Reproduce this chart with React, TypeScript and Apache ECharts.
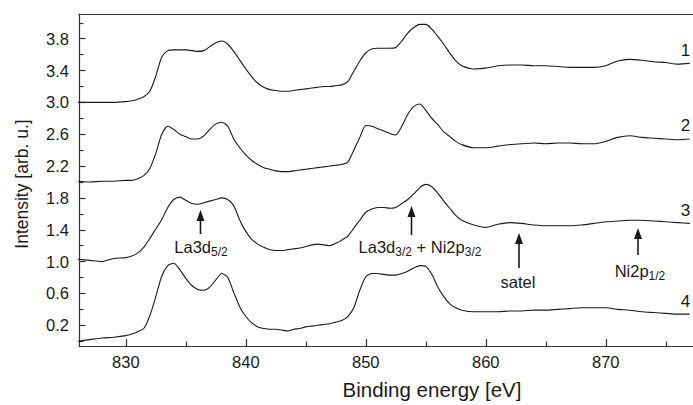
import { useEffect, useRef } from 'react';
import * as echarts from 'echarts';

// Binding energy grid [eV]
const ENERGY = [
  826, 827, 828, 829,
  830, 830.5, 831, 831.5, 832, 832.5, 833, 833.5, 834, 834.5,
  835, 835.5, 836, 836.5, 837, 837.5, 838, 838.5, 839, 839.5,
  840, 840.5, 841, 841.5, 842, 842.5, 843, 843.5, 844, 844.5,
  845, 845.5, 846, 846.5, 847, 847.5, 848, 848.5, 849, 849.5,
  850, 850.5, 851, 851.5, 852, 852.5, 853, 853.5, 854, 854.5,
  855, 855.5, 856, 856.5, 857, 857.5, 858,
  859, 860, 861, 862, 863, 864, 865, 866, 867, 868, 869, 870, 871, 872, 873, 874, 875, 876, 877,
];

const SPECTRUM_1 = [
  3.0, 3.0, 3.0, 3.0,
  3.01, 3.02, 3.04, 3.07, 3.14, 3.33, 3.57, 3.65, 3.66, 3.66,
  3.66, 3.65, 3.64, 3.65, 3.7, 3.75, 3.77, 3.73, 3.64, 3.53,
  3.42, 3.32, 3.24, 3.19, 3.16, 3.15, 3.14, 3.14, 3.15, 3.16,
  3.17, 3.18, 3.19, 3.2, 3.2, 3.21, 3.22, 3.26, 3.39, 3.52,
  3.62, 3.67, 3.68, 3.68, 3.68, 3.69, 3.77, 3.87, 3.94, 3.98,
  3.98, 3.92, 3.83, 3.73, 3.62, 3.52, 3.46,
  3.42, 3.43, 3.46, 3.47, 3.47, 3.46, 3.46, 3.45, 3.44, 3.44, 3.44, 3.46, 3.52, 3.54, 3.53, 3.51, 3.5, 3.48, 3.49,
];

const SPECTRUM_2 = [
  2.01, 2.0, 2.01, 2.01,
  2.02, 2.02, 2.04, 2.08, 2.17, 2.36, 2.6, 2.7, 2.66, 2.6,
  2.57, 2.54, 2.54, 2.58, 2.66, 2.73, 2.75, 2.7, 2.54, 2.43,
  2.34, 2.27, 2.22, 2.18, 2.16, 2.14, 2.13, 2.13, 2.14, 2.15,
  2.16, 2.17, 2.18, 2.19, 2.2, 2.21, 2.22, 2.25, 2.4, 2.56,
  2.71, 2.7, 2.67, 2.64, 2.61, 2.59, 2.7, 2.85, 2.95, 2.98,
  2.9, 2.8, 2.72, 2.63, 2.57, 2.51, 2.47,
  2.43, 2.43, 2.45, 2.47, 2.48, 2.49, 2.48, 2.49, 2.49, 2.48, 2.48, 2.51, 2.56, 2.58, 2.56, 2.55, 2.54, 2.53, 2.54,
];

const SPECTRUM_3 = [
  1.03, 1.015, 1.0, 1.04,
  1.05, 1.07, 1.11, 1.18, 1.29, 1.41, 1.53, 1.68, 1.78, 1.81,
  1.77, 1.73, 1.72, 1.74, 1.76, 1.78, 1.8, 1.78, 1.7, 1.52,
  1.38, 1.28, 1.22, 1.18, 1.15, 1.14, 1.14, 1.15, 1.16, 1.17,
  1.19, 1.21, 1.22, 1.21, 1.2, 1.23, 1.27, 1.32, 1.42, 1.52,
  1.62, 1.66, 1.68, 1.68, 1.67, 1.68, 1.73, 1.78, 1.85, 1.93,
  1.97, 1.94, 1.86, 1.76, 1.67, 1.58, 1.52,
  1.46, 1.43, 1.47, 1.49, 1.48, 1.46, 1.45, 1.45, 1.45, 1.46, 1.48, 1.5, 1.51, 1.52, 1.52, 1.51, 1.5, 1.49, 1.48,
];

const SPECTRUM_4 = [
  0.0, 0.02, 0.04, 0.05,
  0.07, 0.09, 0.12, 0.16, 0.32, 0.56, 0.82, 0.95, 0.98, 0.9,
  0.79, 0.7, 0.65, 0.64, 0.68, 0.77, 0.85, 0.8, 0.61, 0.43,
  0.31, 0.23, 0.18, 0.16, 0.15, 0.15, 0.14, 0.13, 0.15, 0.16,
  0.18, 0.19, 0.2, 0.21, 0.22, 0.24, 0.26, 0.31, 0.42, 0.64,
  0.81, 0.85, 0.85, 0.84, 0.83, 0.83, 0.85, 0.88, 0.92, 0.95,
  0.94, 0.84, 0.68, 0.56, 0.47, 0.42, 0.39,
  0.37, 0.37, 0.37, 0.38, 0.38, 0.39, 0.39, 0.4, 0.41, 0.42, 0.42, 0.42, 0.4, 0.39, 0.37, 0.36, 0.35, 0.34, 0.34,
];

const SPECTRA = [SPECTRUM_1, SPECTRUM_2, SPECTRUM_3, SPECTRUM_4];
const SPECTRUM_NAMES = ['1', '2', '3', '4'];

const X_MAJOR = [830, 840, 850, 860, 870];
const X_MINOR = [835, 845, 855, 865, 875];
const Y_MAJOR = [0.2, 0.6, 1.0, 1.4, 1.8, 2.2, 2.6, 3.0, 3.4, 3.8];
const Y_MINOR = [0.0, 0.4, 0.8, 1.2, 1.6, 2.0, 2.4, 2.8, 3.2, 3.6, 4.0];

const X_MIN = 826.1;
const X_MAX = 877.27;
const Y_MIN = -0.06;
const Y_MAX = 4.11;

const FONT = '"Liberation Sans", Arial, Helvetica, sans-serif';
const INK = '#1a1a1a';
const AXIS = '#333333';

function arrow(x: number, top: number, bottom: number) {
  return [
    {
      type: 'line',
      shape: { x1: x, y1: bottom, x2: x, y2: top + 8 },
      style: { stroke: INK, lineWidth: 1.6 },
    },
    {
      type: 'polygon',
      shape: { points: [[x, top], [x - 4, top + 11], [x + 4, top + 11]] },
      style: { fill: INK },
    },
  ];
}

function annot(text: string, x: number, y: number) {
  return {
    type: 'text',
    x,
    y,
    style: {
      text,
      fill: INK,
      fontFamily: FONT,
      fontSize: 16.5,
      align: 'center',
      verticalAlign: 'middle',
      rich: {
        n: { fontSize: 16.5, fontFamily: FONT, fill: INK, lineHeight: 22 },
        s: { fontSize: 12, fontFamily: FONT, fill: INK, lineHeight: 12, verticalAlign: 'bottom' },
      },
    },
  };
}

export default function App() {
  const ref = useRef<HTMLDivElement>(null);

  useEffect(() => {
    if (!ref.current) return;
    const chart = echarts.init(ref.current, undefined, { renderer: 'svg' });

    const labelStyle = { fontFamily: FONT, fontSize: 16.5, color: INK };

    chart.setOption({
      animation: false,
      backgroundColor: '#ffffff',
      grid: { left: 79, right: 0, top: 14, bottom: 54 },
      xAxis: [
        {
          type: 'value',
          min: X_MIN,
          max: X_MAX,
          position: 'bottom',
          axisLine: { show: true, onZero: false, lineStyle: { color: AXIS, width: 1.2 } },
          axisTick: { show: true, inside: true, length: 7, customValues: X_MAJOR, lineStyle: { color: AXIS, width: 1.2 } },
          axisLabel: { ...labelStyle, margin: 7, customValues: X_MAJOR, formatter: (v: number) => String(Math.round(v)) },
          splitLine: { show: false },
          name: 'Binding energy [eV]',
          nameLocation: 'middle',
          nameGap: 33,
          nameTextStyle: { fontFamily: FONT, fontSize: 20.5, color: INK, padding: [0, 0, 0, 92] },
        },
        {
          type: 'value',
          min: X_MIN,
          max: X_MAX,
          position: 'bottom',
          axisLine: { show: false, onZero: false },
          axisTick: { show: true, inside: true, length: 4.5, customValues: X_MINOR, lineStyle: { color: AXIS, width: 1.2 } },
          axisLabel: { show: false },
          splitLine: { show: false },
        },
        {
          type: 'value',
          min: X_MIN,
          max: X_MAX,
          position: 'top',
          axisLine: { show: true, onZero: false, lineStyle: { color: AXIS, width: 1.2 } },
          axisTick: { show: false },
          axisLabel: { show: false },
          splitLine: { show: false },
        },
      ],
      yAxis: [
        {
          type: 'value',
          min: Y_MIN,
          max: Y_MAX,
          position: 'left',
          axisLine: { show: true, onZero: false, lineStyle: { color: AXIS, width: 1.2 } },
          axisTick: { show: true, inside: true, length: 6.5, customValues: Y_MAJOR, lineStyle: { color: AXIS, width: 1.2 } },
          axisLabel: { ...labelStyle, margin: 10, customValues: Y_MAJOR, formatter: (v: number) => v.toFixed(1) },
          splitLine: { show: false },
          name: 'Intensity [arb. u.]',
          nameLocation: 'middle',
          nameGap: 48,
          nameTextStyle: { fontFamily: FONT, fontSize: 17.5, color: INK, padding: [0, 8, 0, 0] },
        },
        {
          type: 'value',
          min: Y_MIN,
          max: Y_MAX,
          position: 'left',
          axisLine: { show: false, onZero: false },
          axisTick: { show: true, inside: true, length: 4.5, customValues: Y_MINOR, lineStyle: { color: AXIS, width: 1.2 } },
          axisLabel: { show: false },
          splitLine: { show: false },
        },
      ],
      series: SPECTRA.map((s, i) => ({
        type: 'line',
        name: SPECTRUM_NAMES[i],
        xAxisIndex: 0,
        yAxisIndex: 0,
        data: ENERGY.map((e, j) => [e, s[j]]),
        showSymbol: false,
        smooth: 0.25,
        lineStyle: { color: INK, width: 1.1 },
        endLabel: {
          show: true,
          formatter: (p: any) => p.seriesName,
          offset: [-17, -13],
          fontFamily: FONT,
          fontSize: 17,
          color: INK,
        },
        emphasis: { disabled: true },
      })),
      graphic: [
        ...arrow(200.5, 210, 234),
        ...arrow(411.5, 206, 235),
        ...arrow(519, 233, 268),
        ...arrow(638, 228, 255),
        annot('{n|La3d}{s|5/2}', 201, 247),
        annot('{n|La3d}{s|3/2}{n| + Ni2p}{s|3/2}', 420, 247),
        annot('{n|satel}', 518, 282),
        annot('{n|Ni2p}{s|1/2}', 640, 271),
      ],
    });

    return () => chart.dispose();
  }, []);

  return (
    <div
      ref={ref}
      style={{ position: 'absolute', left: 0, top: 0, width: 693, height: 405, background: '#fff' }}
    />
  );
}
